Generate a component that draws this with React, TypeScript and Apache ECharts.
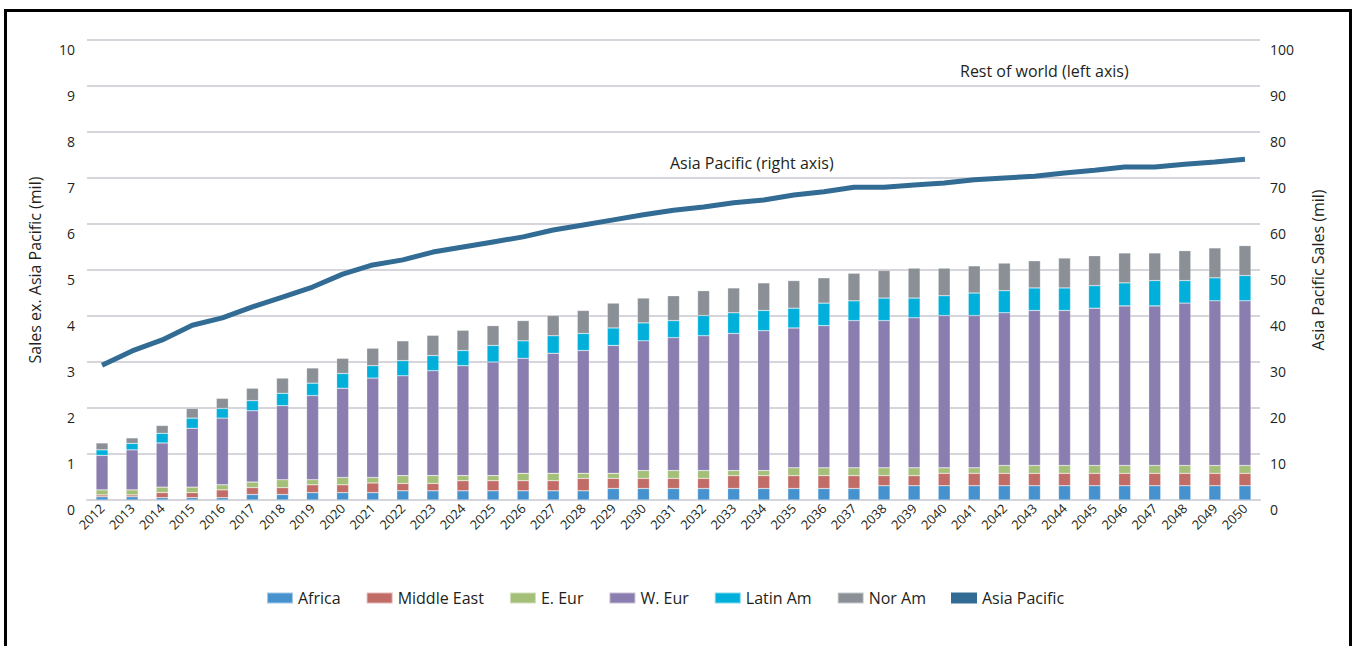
import React, { useEffect, useRef } from "react";
import * as echarts from "echarts";

const years = [
  "2012","2013","2014","2015","2016","2017","2018","2019","2020","2021",
  "2022","2023","2024","2025","2026","2027","2028","2029","2030","2031",
  "2032","2033","2034","2035","2036","2037","2038","2039","2040","2041",
  "2042","2043","2044","2045","2046","2047","2048","2049","2050",
];

const africa = [
  0.07,0.07,0.05,0.05,0.05,0.12,0.12,0.16,0.16,0.16,
  0.20,0.20,0.20,0.20,0.20,0.20,0.20,0.25,0.25,0.25,
  0.25,0.25,0.25,0.25,0.25,0.25,0.31,0.31,0.31,0.31,
  0.31,0.31,0.31,0.31,0.31,0.31,0.31,0.31,0.31,
];
const middleEast = [
  0.04,0.04,0.11,0.11,0.17,0.15,0.15,0.17,0.17,0.21,
  0.16,0.16,0.22,0.22,0.22,0.22,0.27,0.22,0.22,0.22,
  0.22,0.28,0.28,0.28,0.28,0.28,0.22,0.22,0.27,0.27,
  0.27,0.27,0.27,0.27,0.27,0.27,0.27,0.27,0.27,
];
const eEur = [
  0.11,0.11,0.12,0.12,0.11,0.12,0.17,0.11,0.16,0.12,
  0.17,0.17,0.11,0.11,0.16,0.16,0.11,0.11,0.17,0.17,
  0.17,0.11,0.11,0.17,0.17,0.17,0.17,0.17,0.12,0.12,
  0.17,0.17,0.17,0.17,0.17,0.17,0.17,0.17,0.17,
];
const wEur = [
  0.75,0.87,0.96,1.28,1.45,1.55,1.61,1.83,1.94,2.16,
  2.17,2.28,2.39,2.47,2.50,2.61,2.67,2.78,2.82,2.89,
  2.93,2.98,3.04,3.04,3.09,3.20,3.20,3.26,3.31,3.31,
  3.32,3.37,3.37,3.42,3.47,3.47,3.53,3.58,3.58,
];
const latinAm = [
  0.12,0.14,0.21,0.22,0.21,0.22,0.27,0.27,0.32,0.27,
  0.33,0.33,0.33,0.36,0.38,0.38,0.37,0.38,0.39,0.37,
  0.44,0.45,0.44,0.43,0.49,0.43,0.49,0.43,0.43,0.49,
  0.48,0.49,0.49,0.49,0.50,0.55,0.49,0.50,0.55,
];
const norAm = [
  0.15,0.12,0.17,0.21,0.22,0.27,0.33,0.33,0.33,0.38,
  0.43,0.44,0.44,0.43,0.44,0.44,0.50,0.54,0.54,0.54,
  0.54,0.54,0.60,0.60,0.55,0.60,0.60,0.65,0.60,0.59,
  0.60,0.59,0.65,0.65,0.65,0.60,0.65,0.65,0.65,
];
const asiaPacific = [
  29.3,32.4,34.8,38.0,39.6,42.0,44.1,46.3,49.1,51.1,
  52.2,53.9,55.0,56.1,57.2,58.7,59.8,60.9,62.0,63.0,
  63.7,64.6,65.2,66.3,67.0,68.0,68.0,68.5,68.9,69.6,
  70.0,70.4,71.1,71.7,72.4,72.4,73.0,73.5,74.1,
];

const leftTicks = [0, 10];
const rightTicks = [0, 100];

const FONT = "'Open Sans', 'Noto Sans', sans-serif";
const TXT = "#231f20";

export default function App() {
  const ref = useRef<HTMLDivElement>(null);

  useEffect(() => {
    document.body.style.margin = "0";
    document.body.style.overflow = "hidden";
    if (!ref.current) return;
    const chart = echarts.init(ref.current, undefined, { renderer: "svg" });

    const barSeries = [
      { name: "Africa", data: africa, color: "#4592cf" },
      { name: "Middle East", data: middleEast, color: "#c26c67" },
      { name: "E. Eur", data: eEur, color: "#a3bf78" },
      { name: "W. Eur", data: wEur, color: "#8a7daf" },
      { name: "Latin Am", data: latinAm, color: "#00b0da" },
      { name: "Nor Am", data: norAm, color: "#8a9096" },
    ].map((s) => ({
      name: s.name,
      type: "bar",
      stack: "row",
      yAxisIndex: 0,
      barWidth: 12,
      data: s.data,
      itemStyle: { color: s.color, borderColor: "rgba(255,255,255,0.5)", borderWidth: 0.5 },
    }));

    chart.setOption({
      animation: false,
      backgroundColor: "#ffffff",
      textStyle: { fontFamily: FONT, color: TXT },
      grid: { left: 87, right: 94, top: 40, bottom: 146 },
      legend: {
        bottom: 35,
        left: 261,
        icon: "rect",
        itemWidth: 26,
        itemHeight: 11,
        itemGap: 25,
        textStyle: { fontFamily: FONT, fontSize: 16, color: TXT },
        data: ["Africa", "Middle East", "E. Eur", "W. Eur", "Latin Am", "Nor Am", "Asia Pacific"],
      },
      xAxis: {
        type: "category",
        data: years,
        axisLine: { lineStyle: { color: "#d5d5db", width: 2 } },
        axisTick: { show: false },
        axisLabel: { rotate: 45, fontSize: 13, color: TXT, fontFamily: FONT, margin: 6, interval: 0 },
      },
      yAxis: [
        {
          type: "value",
          min: leftTicks[0],
          max: leftTicks[1],
          interval: 1,
          name: "Sales ex. Asia Pacific (mil)",
          nameLocation: "middle",
          nameRotate: 90,
          nameGap: 44,
          nameTextStyle: { fontSize: 16, color: TXT, fontFamily: FONT },
          axisLine: { show: false },
          axisTick: { show: false },
          axisLabel: { fontSize: 14, color: TXT, fontFamily: FONT, margin: 12, verticalAlign: "top", padding: [2, 0, 0, 0] },
          splitLine: { lineStyle: { color: "#d5d5db", width: 2 } },
        },
        {
          type: "value",
          min: rightTicks[0],
          max: rightTicks[1],
          interval: 10,
          position: "right",
          name: "Asia Pacific Sales (mil)",
          nameLocation: "middle",
          nameRotate: 90,
          nameGap: 50,
          nameTextStyle: { fontSize: 16, color: TXT, fontFamily: FONT },
          axisLine: { show: false },
          axisTick: { show: false },
          axisLabel: { fontSize: 14, color: TXT, fontFamily: FONT, margin: 10, verticalAlign: "top", padding: [2, 0, 0, 0] },
          splitLine: { show: false },
        },
      ],
      graphic: [
        {
          type: "rect",
          left: 3,
          top: 8,
          shape: { width: 1345, height: 700 },
          style: { fill: "none", stroke: "#000", lineWidth: 3 },
          silent: true,
        },
        {
          type: "text",
          left: 960,
          top: 63,
          style: { text: "Rest of world (left axis)", fontSize: 16, fill: TXT, fontFamily: FONT },
        },
        {
          type: "text",
          left: 670,
          top: 155,
          style: { text: "Asia Pacific (right axis)", fontSize: 16, fill: TXT, fontFamily: FONT },
        },
      ],
      series: [
        ...barSeries,
        {
          name: "Asia Pacific",
          type: "line",
          yAxisIndex: 1,
          data: asiaPacific,
          symbol: "none",
          lineStyle: { width: 5, color: "#326c94" },
          itemStyle: { color: "#326c94" },
          z: 5,
        },
      ],
    });

    return () => chart.dispose();
  }, []);

  return <div ref={ref} style={{ width: 1354, height: 646 }} />;
}
